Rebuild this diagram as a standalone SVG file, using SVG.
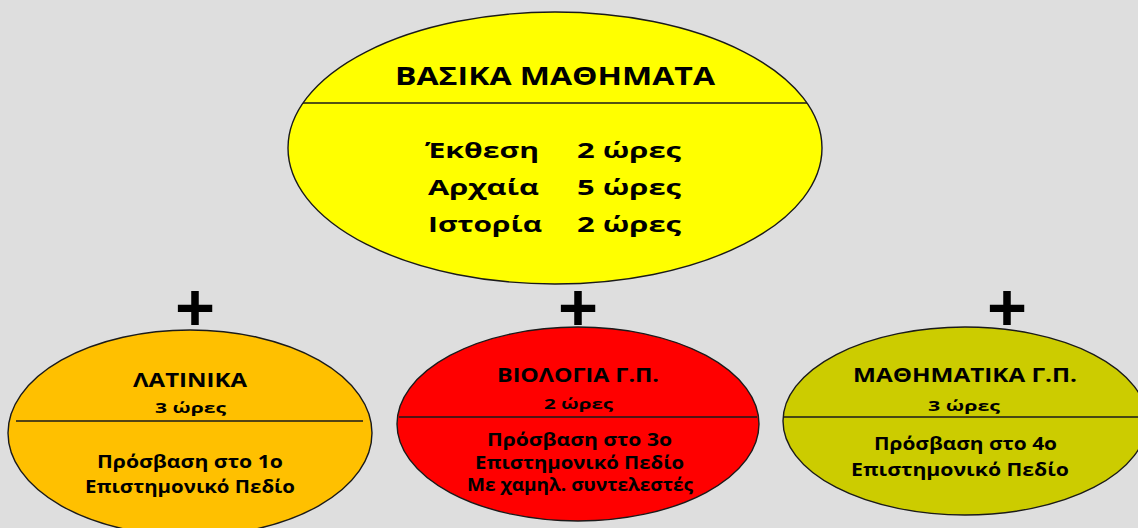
<svg xmlns="http://www.w3.org/2000/svg" width="1138" height="528" viewBox="0 0 1138 528">
<style>
.t{font-family:"Open Sans","Noto Sans","DejaVu Sans",sans-serif;font-weight:bold;fill:#000}
.e{stroke:#1a1a1a;stroke-width:1.4}
.d{stroke:#1a1a1a;stroke-width:1.6}
.p{font-family:"Liberation Sans",Arial,sans-serif;font-weight:bold;font-size:66px;fill:#000;text-anchor:middle}
</style>
<rect width="1138" height="528" fill="#DEDEDE"/>
<g id="basika">
<ellipse class="e" cx="555" cy="148" rx="267" ry="136" fill="#FFFF00"/>
<line class="d" x1="303" y1="103" x2="807" y2="103"/>
<text class="t" x="395" y="85" font-size="24.5" textLength="320" lengthAdjust="spacingAndGlyphs">ΒΑΣΙΚΑ ΜΑΘΗΜΑΤΑ</text>
<text class="t" x="425" y="158" font-size="21" textLength="114" lengthAdjust="spacingAndGlyphs">Έκθεση</text>
<text class="t" x="428" y="195" font-size="21" textLength="111" lengthAdjust="spacingAndGlyphs">Αρχαία</text>
<text class="t" x="428" y="232" font-size="21" textLength="114" lengthAdjust="spacingAndGlyphs">Ιστορία</text>
<text class="t" x="577" y="158" font-size="21" textLength="104" lengthAdjust="spacingAndGlyphs">2 ώρες</text>
<text class="t" x="577" y="195" font-size="21" textLength="104" lengthAdjust="spacingAndGlyphs">5 ώρες</text>
<text class="t" x="577" y="232" font-size="21" textLength="104" lengthAdjust="spacingAndGlyphs">2 ώρες</text>
</g>
<g id="plus">
<text class="p" x="195" y="330" textLength="40" lengthAdjust="spacingAndGlyphs">+</text>
<text class="p" x="578" y="330" textLength="40" lengthAdjust="spacingAndGlyphs">+</text>
<text class="p" x="1007" y="330" textLength="40" lengthAdjust="spacingAndGlyphs">+</text>
</g>
<g id="latinika">
<ellipse class="e" cx="190" cy="433" rx="182" ry="103" fill="#FFC000"/>
<line class="d" x1="16" y1="421" x2="363" y2="421"/>
<text class="t" x="133" y="387" font-size="19" textLength="114" lengthAdjust="spacingAndGlyphs">ΛΑΤΙΝΙΚΑ</text>
<text class="t" x="155" y="413" font-size="15" textLength="71" lengthAdjust="spacingAndGlyphs">3 ώρες</text>
<text class="t" x="97" y="468" font-size="18" textLength="186" lengthAdjust="spacingAndGlyphs">Πρόσβαση στο 1ο</text>
<text class="t" x="85" y="493" font-size="18" textLength="210" lengthAdjust="spacingAndGlyphs">Επιστημονικό Πεδίο</text>
</g>
<g id="biologia">
<ellipse class="e" cx="578" cy="424" rx="181" ry="97" fill="#FF0000"/>
<line class="d" x1="399" y1="417" x2="757" y2="417"/>
<text class="t" x="497" y="382" font-size="19" textLength="162" lengthAdjust="spacingAndGlyphs">ΒΙΟΛΟΓΙΑ Γ.Π.</text>
<text class="t" x="544" y="409" font-size="15" textLength="69" lengthAdjust="spacingAndGlyphs">2 ώρες</text>
<text class="t" x="487" y="446" font-size="18" textLength="185" lengthAdjust="spacingAndGlyphs">Πρόσβαση στο 3ο</text>
<text class="t" x="475" y="469" font-size="18" textLength="209" lengthAdjust="spacingAndGlyphs">Επιστημονικό Πεδίο</text>
<text class="t" x="467" y="491" font-size="18" textLength="226" lengthAdjust="spacingAndGlyphs">Με χαμηλ. συντελεστές</text>
</g>
<g id="mathimatika">
<ellipse class="e" cx="965" cy="421" rx="182" ry="94" fill="#CCCC00"/>
<line class="d" x1="784" y1="417" x2="1138" y2="417"/>
<text class="t" x="853" y="382" font-size="19" textLength="224" lengthAdjust="spacingAndGlyphs">ΜΑΘΗΜΑΤΙΚΑ Γ.Π.</text>
<text class="t" x="928" y="411" font-size="15" textLength="72" lengthAdjust="spacingAndGlyphs">3 ώρες</text>
<text class="t" x="874" y="450" font-size="18" textLength="183" lengthAdjust="spacingAndGlyphs">Πρόσβαση στο 4ο</text>
<text class="t" x="851" y="476" font-size="18" textLength="218" lengthAdjust="spacingAndGlyphs">Επιστημονικό Πεδίο</text>
</g>
<g id="connectors"></g>
</svg>
